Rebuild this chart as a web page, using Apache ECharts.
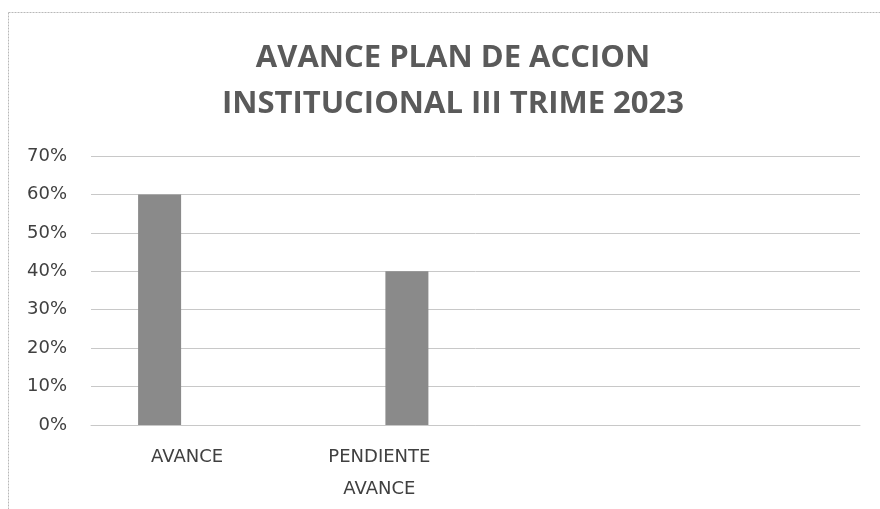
<!DOCTYPE html>
<html>
<head>
<meta charset="utf-8">
<script src="https://cdn.jsdelivr.net/npm/echarts@6/dist/echarts.min.js"></script>
<style>
html,body{margin:0;padding:0;background:#fff;}
#c{width:880px;height:509px;}
</style>
</head>
<body>
<div id="c"></div>
<script>
var titleLines = ['AVANCE PLAN DE ACCION', 'INSTITUCIONAL III TRIME 2023'];
var categories = ['AVANCE', 'PENDIENTE\nAVANCE', '', ''];
var seriesAvance = [60, '-', '-', '-'];
var seriesPendiente = ['-', 40, '-', '-'];
var yMin = 0, yMax = 70, yStep = 10;

var chart = echarts.init(document.getElementById('c'), null, {renderer: 'canvas'});
chart.setOption({
  backgroundColor: '#ffffff',
  animation: false,
  title: {
    text: titleLines.join('\n'),
    left: 448,
    top: 30,
    textAlign: 'center',
    textStyle: {
      fontFamily: 'Open Sans',
      fontWeight: 'bold',
      fontSize: 31,
      lineHeight: 46,
      color: '#5a5a5a'
    }
  },
  graphic: [
    {type: 'line', shape: {x1: 8.5, y1: 12.5, x2: 880, y2: 12.5}, style: {stroke: '#b8b8b8', lineWidth: 1, lineDash: [2, 1]}},
    {type: 'line', shape: {x1: 8.5, y1: 12.5, x2: 8.5, y2: 509}, style: {stroke: '#b8b8b8', lineWidth: 1, lineDash: [2, 1]}}
  ],
  grid: {left: 91, right: 20, top: 156, bottom: 84, containLabel: false},
  xAxis: {
    type: 'category',
    data: categories,
    axisLine: {show: true, lineStyle: {color: '#c8c8c8', width: 1}},
    axisTick: {show: false},
    axisLabel: {
      interval: 0,
      margin: 16,
      fontFamily: 'DejaVu Sans',
      fontSize: 18,
      lineHeight: 32,
      color: '#404040'
    }
  },
  yAxis: {
    type: 'value',
    min: yMin, max: yMax, interval: yStep,
    axisLine: {show: false},
    axisTick: {show: false},
    splitLine: {lineStyle: {color: '#c8c8c8', width: 1}},
    axisLabel: {
      formatter: '{value}%',
      margin: 24,
      fontFamily: 'DejaVu Sans',
      fontSize: 18,
      color: '#404040'
    }
  },
  series: [
    {name: 'AVANCE', type: 'bar', data: seriesAvance, barWidth: 43, barGap: '28%', itemStyle: {color: '#8a8a8a'}},
    {name: 'PENDIENTE', type: 'bar', data: seriesPendiente, barWidth: 43, barGap: '28%', itemStyle: {color: '#8a8a8a'}}
  ]
});
</script>
</body>
</html>
